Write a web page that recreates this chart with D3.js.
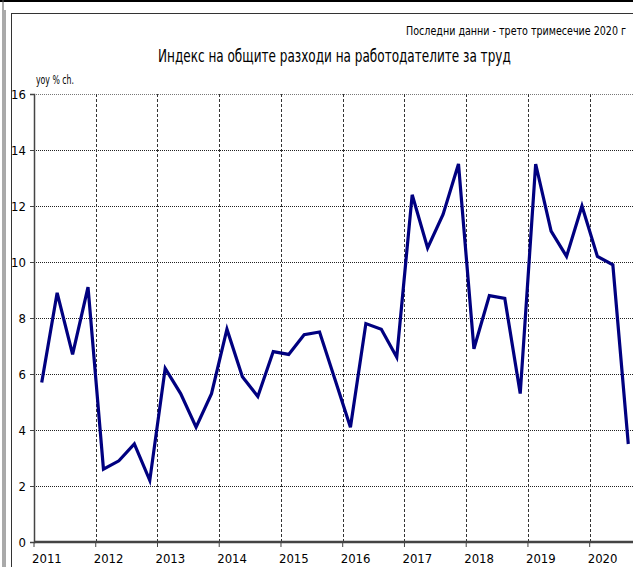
<!DOCTYPE html>
<html>
<head>
<meta charset="utf-8">
<script src="https://cdn.jsdelivr.net/npm/d3@7"></script>
<style>
  html, body { margin: 0; padding: 0; background: #fff; overflow: hidden; }
  text { font-family: "Liberation Sans Narrow", "DejaVu Sans Condensed", "Arial Narrow", sans-serif; fill: #000; }
</style>
</head>
<body>
<div id="chart"></div>
<script>
// Chart size
const width = 633;
const height = 567;

// Data: quarterly yoy % change, 2011Q1 - 2020Q3
const years = ["2011", "2012", "2013", "2014", "2015", "2016", "2017", "2018", "2019", "2020"];
const quarters = years.flatMap(y => ["Q1", "Q2", "Q3", "Q4"].map(q => y + q)).slice(0, 39);
const values = [
  5.7, 8.9, 6.7, 9.1,
  2.6, 2.9, 3.5, 2.2,
  6.2, 5.3, 4.1, 5.3,
  7.6, 5.9, 5.2, 6.8,
  6.7, 7.4, 7.5, 5.8,
  4.1, 7.8, 7.6, 6.6,
  12.4, 10.5, 11.7, 13.5,
  6.9, 8.8, 8.7, 5.3,
  13.5, 11.1, 10.2, 12.0,
  10.2, 9.9, 3.5
];
const yTicks = [0, 2, 4, 6, 8, 10, 12, 14, 16];

const titleText = "Индекс на общите разходи на работодателите за труд";
const noteText = "Последни данни - трето тримесечие 2020 г";
const unitText = "yoy % ch.";

const svg = d3.select("#chart")
  .append("svg")
  .attr("width", width)
  .attr("height", height);

// Frames
svg.append("line").attr("x1", 0).attr("x2", width).attr("y1", 1).attr("y2", 1)
  .attr("stroke", "#000").attr("stroke-width", 2);
svg.append("line").attr("x1", 3).attr("x2", 3).attr("y1", 0).attr("y2", height)
  .attr("stroke", "#555").attr("stroke-width", 1);
svg.append("line").attr("x1", 5).attr("x2", 5).attr("y1", 10).attr("y2", height)
  .attr("stroke", "#555").attr("stroke-width", 1);
svg.append("rect").attr("x", 11.5).attr("y", 13.5).attr("width", width).attr("height", height)
  .attr("fill", "none").attr("stroke", "#333").attr("stroke-width", 1);

// Scales
const x = d3.scaleBand().domain(quarters).range([34, 636]).paddingInner(0).paddingOuter(0);
const y = d3.scaleLinear().domain([0, 16]).range([542, 94]);

// Horizontal grid
svg.append("g")
  .selectAll("line")
  .data(yTicks.filter(d => d > 0))
  .join("line")
  .attr("x1", 34).attr("x2", width)
  .attr("y1", d => y(d) + 0.5).attr("y2", d => y(d) + 0.5)
  .attr("stroke", d => d === 16 ? "#777" : "#222")
  .attr("stroke-width", 1)
  .attr("stroke-dasharray", "1,1");

// Vertical grid at year starts
svg.append("g")
  .selectAll("line")
  .data(years.slice(1))
  .join("line")
  .attr("x1", d => Math.round(x(d + "Q1")) + 0.5)
  .attr("x2", d => Math.round(x(d + "Q1")) + 0.5)
  .attr("y1", y(16)).attr("y2", y(0))
  .attr("stroke", "#333")
  .attr("stroke-width", 1)
  .attr("stroke-dasharray", "3,2");

// Y axis
const yAxis = d3.axisLeft(y).tickValues(yTicks).tickSize(4).tickPadding(4);
const gy = svg.append("g").attr("transform", "translate(34,0)").call(yAxis);
gy.select(".domain").attr("stroke", "#444").attr("stroke-width", 1.5);
gy.selectAll(".tick line").attr("stroke", "#444");
gy.selectAll(".tick text").style("font-size", "13px").attr("fill", "#000");

// X axis
const gx = svg.append("g").attr("transform", `translate(0,${y(0)})`);
gx.append("line").attr("x1", 34).attr("x2", width).attr("y1", 0).attr("y2", 0)
  .attr("stroke", "#444").attr("stroke-width", 2.5);
gx.selectAll(".xtick")
  .data(years)
  .join("line")
  .attr("class", "xtick")
  .attr("x1", d => x(d + "Q1")).attr("x2", d => x(d + "Q1"))
  .attr("y1", 0).attr("y2", 5)
  .attr("stroke", "#444");
gx.selectAll(".xlabel")
  .data(years)
  .join("text")
  .attr("class", "xlabel")
  .attr("x", d => x(d + "Q1") - 2)
  .attr("y", 21)
  .style("font-size", "13px")
  .text(d => d);

// Line
const line = d3.line()
  .x((d, i) => x(quarters[i]) + x.bandwidth() / 2)
  .y(d => y(d));

svg.append("path")
  .datum(values)
  .attr("d", line)
  .attr("fill", "none")
  .attr("stroke", "#000080")
  .attr("stroke-width", 3.2)
  .attr("stroke-linejoin", "miter");

// Texts squeezed horizontally to the narrow face of the original
function narrowText(str, px, py, w, size, anchor) {
  const t = svg.append("text")
    .attr("text-anchor", anchor)
    .style("font-size", size + "px")
    .text(str);
  const natural = t.node().getComputedTextLength();
  t.attr("transform", `translate(${px},${py}) scale(${w / natural},1)`);
}

narrowText(titleText, 158, 62, 353, 18, "start");
narrowText(noteText, 626, 35, 220, 13, "end");
narrowText(unitText, 36, 84, 38, 12, "start");
</script>
</body>
</html>
